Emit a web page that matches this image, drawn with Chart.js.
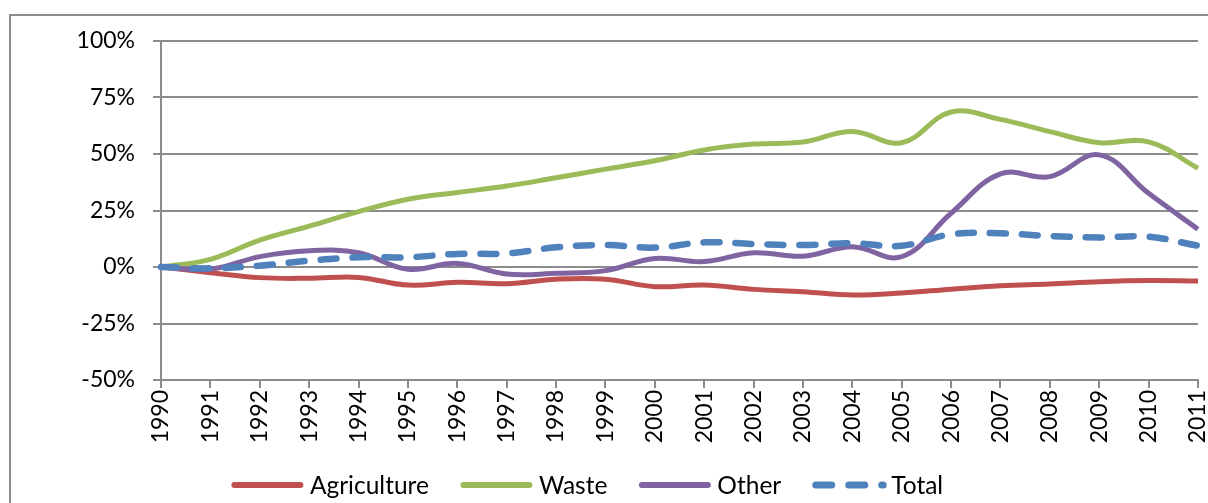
<!DOCTYPE html>
<html>
<head>
<meta charset="utf-8">
<script src="https://cdn.jsdelivr.net/npm/chart.js@4.4.1/dist/chart.umd.min.js"></script>
<style>
  html, body { margin: 0; padding: 0; background: #fff; overflow: hidden; }
  #wrap { position: relative; width: 1208px; height: 503px; overflow: hidden; }
  #frame { position: absolute; left: 9px; top: 14px; width: 1300px; height: 600px;
           border: 2px solid #8c8c8c; box-sizing: border-box; }
  #chart { position: absolute; left: 0; top: 0; }
</style>
</head>
<body>
<div id="wrap">
  <div id="frame"></div>
  <canvas id="chart" width="1230" height="503"></canvas>
</div>
<script>
// change since 1990, in percent
const years = ["1990","1991","1992","1993","1994","1995","1996","1997","1998","1999","2000",
               "2001","2002","2003","2004","2005","2006","2007","2008","2009","2010","2011"];
const agriculture = [0, -2.5, -4.7, -5, -4.6, -8, -6.8, -7.4, -5.4, -5.4, -8.7,
                     -8, -9.9, -10.9, -12.4, -11.5, -9.8, -8.3, -7.5, -6.5, -6, -6.2];
const waste = [0, 3.4, 11.9, 18.1, 24.5, 30, 33, 35.8, 39.5, 43.3, 47,
               51.8, 54.4, 55.3, 60, 55, 68.6, 65.3, 59.9, 55, 55.4, 43.7];
const other = [0, -1, 4.6, 7.2, 6.3, -1, 1.6, -3.1, -2.8, -1.6, 3.8,
               2.4, 6.3, 4.8, 9, 4.6, 23.8, 41.2, 40, 49.6, 32.6, 16.7];
const total = [0, -0.6, 0.6, 2.8, 4.3, 4.3, 5.8, 6, 8.7, 9.7, 8.6,
               10.9, 10.2, 9.7, 10.5, 9.4, 14.5, 14.9, 13.7, 13.1, 13.4, 9.4];
const yTicks = [-50, -25, 0, 25, 50, 75, 100];

const FONT = "Lato";
const GRID = "#8c8c8c";

function series(label, data, color, dashed, order) {
  return {
    label: label,
    data: data,
    order: order,
    borderColor: color,
    backgroundColor: color,
    borderWidth: dashed ? 6.5 : 5,
    borderDash: dashed ? [16, 16] : [],
    borderCapStyle: dashed ? "round" : "butt",
    pointRadius: 0,
    tension: 0.4,
    fill: false
  };
}

// legend row under the axis: line sample, label, repeat
const bottomLegend = {
  id: "bottomLegend",
  afterDraw(chart) {
    const g = chart.ctx;
    const sample = 73, textGap = 6, itemGap = 31, cx = 587, cy = 485;
    g.save();
    g.font = "24.5px " + FONT;
    g.textBaseline = "middle";
    g.textAlign = "left";
    const items = chart.data.datasets.map(ds => ({ ds: ds, w: g.measureText(ds.label).width }));
    const full = items.reduce((s, it) => s + sample + textGap + it.w, 0) + itemGap * (items.length - 1);
    let x = cx - full / 2;
    items.forEach(it => {
      const dashed = it.ds.borderDash.length > 0;
      g.strokeStyle = it.ds.borderColor;
      g.lineCap = "round";
      g.lineWidth = dashed ? 7 : 6;
      g.setLineDash(dashed ? [16, 17] : []);
      g.beginPath();
      g.moveTo(x + 3.5, cy);
      // dashed sample ends on a short dash, seen as a dot
      g.lineTo(x + sample - (dashed ? 2 : 3.5), cy);
      g.stroke();
      g.setLineDash([]);
      g.fillStyle = "#000";
      g.fillText(it.ds.label, x + sample + textGap, cy + 1);
      x += sample + textGap + it.w + itemGap;
    });
    g.restore();
  }
};

const ctx = document.getElementById("chart");
new Chart(ctx, {
  type: "line",
  data: {
    labels: years,
    datasets: [
      series("Agriculture", agriculture, "#C0504D", false, 4),
      series("Waste", waste, "#9BBB59", false, 3),
      series("Other", other, "#8064A2", false, 2),
      series("Total", total, "#4F81BD", true, 1)
    ]
  },
  plugins: [bottomLegend],
  options: {
    responsive: false,
    animation: false,
    layout: { padding: { left: 0, top: 41, right: 32, bottom: 0 } },
    plugins: {
      tooltip: { enabled: false },
      legend: { display: false }
    },
    scales: {
      x: {
        type: "category",
        offset: false,
        afterFit(scale) { scale.height = 123; },
        grid: { drawOnChartArea: false, drawTicks: true, tickLength: 8, color: GRID, lineWidth: 2, offset: false },
        border: { color: GRID, width: 2 },
        ticks: {
          autoSkip: false,
          minRotation: 90,
          maxRotation: 90,
          padding: 2,
          color: "#000",
          font: { family: FONT, size: 23 }
        }
      },
      y: {
        min: -50,
        max: 100,
        afterFit(scale) { scale.width = 161; },
        afterBuildTicks(scale) { scale.ticks = yTicks.map(v => ({ value: v })); },
        grid: { color: GRID, lineWidth: 2, tickLength: 8 },
        border: { color: GRID, width: 2 },
        ticks: {
          padding: 18,
          color: "#000",
          font: { family: FONT, size: 23 },
          callback: v => v + "%"
        }
      }
    }
  }
});
</script>
</body>
</html>
